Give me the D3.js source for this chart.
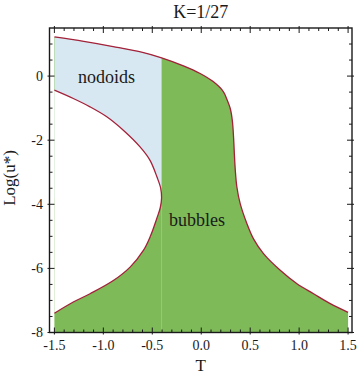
<!DOCTYPE html>
<html>
<head>
<meta charset="utf-8">
<script src="https://cdn.jsdelivr.net/npm/d3@7"></script>
<style>
body{ margin:0; background:#fff; }
svg{ display:block; }
text{ font-family:"Liberation Serif","DejaVu Serif",serif; fill:#1a1a1a; }
</style>
</head>
<body>
<svg id="chart" width="359" height="377"></svg>
<script>

// top red curve
const upperT    = [-1.5, -1.2, -0.9, -0.6, -0.405, -0.182, -0.011, 0.125, 0.227, 0.265, 0.297, 0.318, 0.330, 0.338, 0.347, 0.364, 0.398, 0.466, 0.534, 0.636, 0.807, 0.978, 1.147, 1.318, 1.5];
const upperLogU = [1.22, 1.08, 0.92, 0.74, 0.57, 0.32, 0.08, -0.18, -0.49, -0.75, -1.02, -1.40, -1.90, -2.40, -2.90, -3.46, -3.98, -4.60, -5.08, -5.54, -6.06, -6.48, -6.79, -7.10, -7.37];

// left loop, listed from bottom to top
const loopT    = [-1.5, -1.307, -1.136, -0.898, -0.727, -0.591, -0.52, -0.455, -0.418, -0.405, -0.414, -0.452, -0.523, -0.625, -0.796, -0.965, -1.136, -1.307, -1.5];
const loopLogU = [-7.40, -7.05, -6.79, -6.38, -5.96, -5.44, -5.00, -4.45, -4.10, -3.80, -3.50, -3.15, -2.63, -2.21, -1.69, -1.27, -0.96, -0.70, -0.44];

const xTicks  = [-1.5, -1.0, -0.5, 0.0, 0.5, 1.0, 1.5];
const xLabels = ["-1.5", "-1.0", "-0.5", "0.0", "0.5", "1.0", "1.5"];
const yTicks  = [0, -2, -4, -6, -8];
const yLabels = ["0", "-2", "-4", "-6", "-8"];

const titleText = "K=1/27";
const xTitle = "T";
const yTitle = "Log(u*)";
const regionNames = ["nodoids", "bubbles"];

const green = "#7eba58";
const blue  = "#d7e8f2";
const red   = "#a3213a";

let svg = d3.select("#chart");

let x = d3.scaleLinear().domain([-1.55, 1.54]).range([49.5, 352]);
let y = d3.scaleLinear().domain([-8, 1.5]).range([332.5, 28]);

let smooth = d3.curveCatmullRom.alpha(0.5);

let upper = upperT.map( (t,i) => [t, upperLogU[i]] );
let loop  = loopT.map( (t,i) => [t, loopLogU[i]] );

// turning point of the loop = where nodoids stop
let turn = d3.maxIndex(loopT);
let tB = loopT[turn], lB = loopLogU[turn];

// everything under the top curve is green
let under = d3.area()
    .curve(smooth)
    .x( d => x(d[0]) )
    .y0( y(-8) )
    .y1( d => y(d[1]) );

svg.append("path").attr("d", under(upper)).attr("fill", green);

// nodoids: left of the turning point, above it
svg.append("clipPath").attr("id", "nodclip")
    .append("rect")
    .attr("x", x(-1.5))
    .attr("y", y(1.5))
    .attr("width", x(tB) - x(-1.5))
    .attr("height", y(lB) - y(1.5));

svg.append("path")
    .attr("d", under(upper))
    .attr("fill", blue)
    .attr("clip-path", "url(#nodclip)");

// inside of the loop is empty
let inside = d3.area()
    .curve(smooth)
    .y( d => y(d[1]) )
    .x0( x(-1.5) )
    .x1( d => x(d[0]) );

svg.append("path").attr("d", inside(loop)).attr("fill", "#fff");

// faint seam where the two green patches meet
svg.append("line")
    .attr("x1", x(tB)).attr("x2", x(tB))
    .attr("y1", y(-8)).attr("y2", y(lB))
    .attr("stroke", "#a5d08c")
    .attr("stroke-opacity", 0.7)
    .attr("stroke-width", 1);

// red curves
let curveLine = d3.line().curve(smooth).x(d => x(d[0])).y(d => y(d[1]));

svg.append("path")
    .attr("d", curveLine(upper))
    .attr("fill", "none").attr("stroke", red).attr("stroke-width", 1.3);

svg.append("path")
    .attr("d", curveLine(loop))
    .attr("fill", "none").attr("stroke", red).attr("stroke-width", 1.3);

// frame
let x0 = x.range()[0], x1 = x.range()[1];
let y0 = y.range()[0], y1 = y.range()[1];

svg.append("rect")
    .attr("x", x0).attr("y", y1)
    .attr("width", x1 - x0).attr("height", y0 - y1)
    .attr("fill", "none").attr("stroke", "#1a1a1a").attr("stroke-width", 1.4);

// ticks on all four sides
let gt = svg.append("g").attr("stroke", "#1a1a1a").attr("stroke-width", 1);

function xtick( v, len, out ){
    let px = x(v);
    gt.append("line").attr("x1", px).attr("x2", px).attr("y1", y0 + out).attr("y2", y0 - len);
    gt.append("line").attr("x1", px).attr("x2", px).attr("y1", y1 - out).attr("y2", y1 + len);
}
function ytick( v, len, out ){
    let py = y(v);
    gt.append("line").attr("y1", py).attr("y2", py).attr("x1", x0 - out).attr("x2", x0 + len);
    gt.append("line").attr("y1", py).attr("y2", py).attr("x1", x1 + out).attr("x2", x1 - len);
}

d3.range(-15, 16).forEach( function(k){
    if( k % 5 != 0 ) xtick( k/10, 3, 0 );
});
xTicks.forEach( v => xtick( v, 5, 2 ) );

d3.range(-16, 3).forEach( function(k){
    let v = k/2;
    if( v > -8 && v < 1.5 && v % 2 != 0 ) ytick( v, 3, 0 );
});
yTicks.forEach( v => ytick( v, 5, 2 ) );

// tick labels
let gl = svg.append("g").style("font-size", "14px");
xTicks.forEach( function(v, i){
    gl.append("text")
        .attr("x", x(v)).attr("y", 350)
        .attr("text-anchor", "middle")
        .text(xLabels[i]);
});
yTicks.forEach( function(v, i){
    gl.append("text")
        .attr("x", 43).attr("y", y(v))
        .attr("dy", ".35em")
        .attr("text-anchor", "end")
        .text(yLabels[i]);
});

// titles
svg.append("text")
    .attr("x", (x0 + x1) / 2).attr("y", 17.5)
    .attr("text-anchor", "middle")
    .style("font-size", "18px")
    .text(titleText);

svg.append("text")
    .attr("x", (x0 + x1) / 2).attr("y", 371)
    .attr("text-anchor", "middle")
    .style("font-size", "17px")
    .text(xTitle);

svg.append("text")
    .attr("transform", "translate(15,178) rotate(-90)")
    .attr("text-anchor", "middle")
    .style("font-size", "17px")
    .text(yTitle);

// region names
svg.append("text").attr("x", 78).attr("y", 83).style("font-size", "18px").text(regionNames[0]);
svg.append("text").attr("x", 169).attr("y", 226).style("font-size", "18px").text(regionNames[1]);

</script>
</body>
</html>
